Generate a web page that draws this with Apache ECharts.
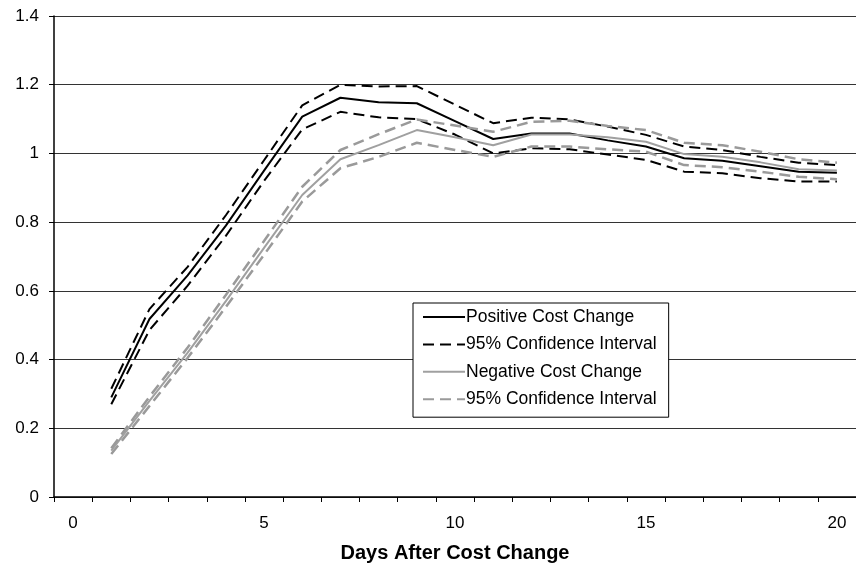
<!DOCTYPE html>
<html>
<head>
<meta charset="utf-8">
<script src="https://cdn.jsdelivr.net/npm/echarts@6/dist/echarts.min.js"></script>
<style>
html,body{margin:0;padding:0;background:#fff;}
#chart{width:856px;height:571px;}
</style>
</head>
<body>
<div id="chart"></div>
<script>
var days = ['0','1','2','3','4','5','6','7','8','9','10','11','12','13','14','15','16','17','18','19','20'];
var yTicks = [0, 0.2, 0.4, 0.6, 0.8, 1.0, 1.2, 1.4];

var positive      = [null, 0.290, 0.518, 0.645, 0.790, 0.950, 1.107, 1.162, 1.149, 1.146, 1.094, 1.042, 1.058, 1.058, 1.038, 1.020, 0.986, 0.979, 0.963, 0.947, 0.944];
var positiveUpper = [null, 0.315, 0.547, 0.670, 0.820, 0.980, 1.140, 1.200, 1.195, 1.196, 1.142, 1.088, 1.104, 1.099, 1.078, 1.054, 1.020, 1.010, 0.990, 0.973, 0.966];
var positiveLower = [null, 0.270, 0.486, 0.615, 0.760, 0.920, 1.070, 1.121, 1.105, 1.100, 1.055, 1.000, 1.015, 1.012, 0.997, 0.981, 0.947, 0.942, 0.928, 0.918, 0.918];

var negative      = [null, 0.135, 0.280, 0.420, 0.570, 0.725, 0.879, 0.983, 1.024, 1.068, 1.047, 1.024, 1.055, 1.055, 1.047, 1.034, 0.998, 0.990, 0.974, 0.954, 0.950];
var negativeUpper = [null, 0.142, 0.292, 0.435, 0.588, 0.745, 0.903, 1.010, 1.056, 1.099, 1.081, 1.063, 1.092, 1.095, 1.080, 1.068, 1.031, 1.024, 1.005, 0.983, 0.973];
var negativeLower = [null, 0.125, 0.265, 0.405, 0.553, 0.705, 0.860, 0.957, 0.990, 1.031, 1.010, 0.990, 1.020, 1.020, 1.012, 1.005, 0.966, 0.960, 0.947, 0.932, 0.925];

var legendNames = {
  'Positive Cost Change': 'Positive Cost Change',
  'ciPos': '95% Confidence Interval',
  'Negative Cost Change': 'Negative Cost Change',
  'ciNeg': '95% Confidence Interval'
};

var FONT = '"Liberation Sans", Arial, Helvetica, sans-serif';
var chart = echarts.init(document.getElementById('chart'), null, {renderer: 'canvas'});

function lineSeries(name, data, color, width, dashed) {
  return {
    name: name,
    type: 'line',
    data: data,
    symbol: 'none',
    connectNulls: false,
    silent: true,
    animation: false,
    lineStyle: {color: color, width: width, type: dashed ? [11, 6] : 'solid'},
    itemStyle: {color: color}
  };
}

chart.setOption({
  backgroundColor: '#fff',
  animation: false,
  grid: {left: 54, right: 0, top: 16, bottom: 74, containLabel: false},
  legend: {
    orient: 'vertical',
    left: 413,
    top: 303,
    padding: [5, 12, 9, 9],
    itemGap: 9.4,
    itemWidth: 42,
    itemHeight: 14,
    backgroundColor: '#fff',
    borderColor: '#000',
    borderWidth: 1,
    borderRadius: 0,
    selectedMode: false,
    itemStyle: {opacity: 0},
    data: ['Positive Cost Change', 'ciPos', 'Negative Cost Change', 'ciNeg'],
    formatter: function (n) { return legendNames[n]; },
    textStyle: {fontFamily: FONT, fontSize: 17.5, lineHeight: 18, color: '#000', padding: [0, 0, 0, -4]}
  },
  xAxis: {
    type: 'category',
    data: days,
    boundaryGap: true,
    name: 'Days After Cost Change',
    nameLocation: 'middle',
    nameGap: 46,
    nameTextStyle: {fontFamily: FONT, fontSize: 20, fontWeight: 'bold', color: '#000'},
    axisLine: {lineStyle: {color: '#000', width: 1.5}},
    axisTick: {show: true, interval: 0, length: 5, lineStyle: {color: '#000'}},
    axisLabel: {interval: 4, margin: 18, fontFamily: FONT, fontSize: 17, color: '#000'},
    splitLine: {show: false}
  },
  yAxis: {
    type: 'value',
    min: yTicks[0],
    max: yTicks[yTicks.length - 1],
    interval: 0.2,
    axisLine: {show: true, lineStyle: {color: '#000', width: 1.5}},
    axisTick: {show: true, length: 5, lineStyle: {color: '#000'}},
    axisLabel: {margin: 15, fontFamily: FONT, fontSize: 17, color: '#000',
      formatter: function (v) { return String(Math.round(v * 10) / 10); }},
    splitLine: {show: true, lineStyle: {color: '#333', width: 1}}
  },
  series: [
    lineSeries('Positive Cost Change', positive, '#000', 2, false),
    lineSeries('ciPos', positiveUpper, '#000', 2, true),
    lineSeries('ciPos', positiveLower, '#000', 2, true),
    lineSeries('Negative Cost Change', negative, '#a0a0a0', 2, false),
    lineSeries('ciNeg', negativeUpper, '#9a9a9a', 2.5, true),
    lineSeries('ciNeg', negativeLower, '#9a9a9a', 2.5, true)
  ]
});
</script>
</body>
</html>
